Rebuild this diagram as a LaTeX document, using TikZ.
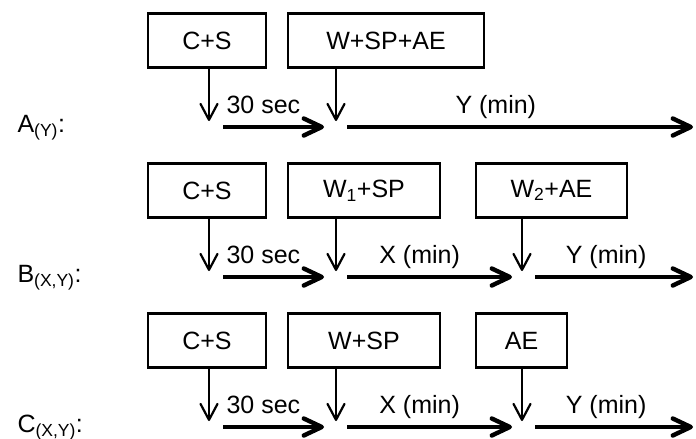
\documentclass[tikz,border=0pt]{standalone}
\usepackage{fontspec}
\setmainfont{Liberation Sans}
\usepackage{tikz}
\usetikzlibrary{arrows.meta}

\begin{document}
\begin{tikzpicture}[
    x=1pt, y=-1pt,
    font=\fontsize{25}{30}\selectfont,
    block/.style={rectangle, draw, line width=2.7pt, minimum height=54pt, inner sep=0pt},
    drop/.style={-{Straight Barb[length=16pt, width=17pt, line width=2.2pt, round]}, line width=1.8pt},
    arrow/.style={-{Straight Barb[length=18pt, width=17pt, line width=4.4pt, round]}, line width=3.8pt},
    lab/.style={anchor=base, yshift=14pt}
]
\useasboundingbox (0,0) rectangle (696,439);

% row A
\node[block, minimum width=118pt] (csA) at (207,40.5) {C+S};
\node[block, minimum width=196pt] (wA) at (386,40.5) {W+SP+AE};
\node[anchor=base west] (labA) at (14,132) {A\textsubscript{(Y)}:};
\coordinate (dA1) at (209,121);
\coordinate (dA2) at (336,121);
\coordinate (hA0) at (223,127);
\coordinate (hA1) at (324,127);
\coordinate (hA2) at (347,127);
\coordinate (hA3) at (693,127);
\draw[drop] (csA.south -| dA1) -- (dA1);
\draw[drop] (wA.south -| dA2) -- (dA2);
\draw[arrow] (hA0) -- node[lab, pos=.40] {30 sec} (hA1);
\draw[arrow] (hA2) -- node[lab, pos=.43] {Y (min)} (hA3);

% row B
\node[block, minimum width=118pt] (csB) at (207,190.5) {C+S};
\node[block, minimum width=152pt] (wB) at (364,190.5) {W\textsubscript{1}+SP};
\node[block, minimum width=151pt] (aeB) at (551.5,190.5) {W\textsubscript{2}+AE};
\node[anchor=base west] (labB) at (14,282) {B\textsubscript{(X,Y)}:};
\coordinate (dB1) at (209,271);
\coordinate (dB2) at (336,271);
\coordinate (dB3) at (522,271);
\coordinate (hB0) at (223,277);
\coordinate (hB1) at (324,277);
\coordinate (hB2) at (347,277);
\coordinate (hB3) at (512,277);
\coordinate (hB4) at (535,277);
\coordinate (hB5) at (693,277);
\draw[drop] (csB.south -| dB1) -- (dB1);
\draw[drop] (wB.south -| dB2) -- (dB2);
\draw[drop] (aeB.south -| dB3) -- (dB3);
\draw[arrow] (hB0) -- node[lab, pos=.40] {30 sec} (hB1);
\draw[arrow] (hB2) -- node[lab, pos=.44] {X (min)} (hB3);
\draw[arrow] (hB4) -- node[lab, pos=.45] {Y (min)} (hB5);

% row C
\node[block, minimum width=118pt] (csC) at (207,340.5) {C+S};
\node[block, minimum width=152pt] (wC) at (364,340.5) {W+SP};
\node[block, minimum width=91pt] (aeC) at (521.5,340.5) {AE};
\node[anchor=base west] (labC) at (14,432) {C\textsubscript{(X,Y)}:};
\coordinate (dC1) at (209,421);
\coordinate (dC2) at (336,421);
\coordinate (dC3) at (522,421);
\coordinate (hC0) at (223,427);
\coordinate (hC1) at (324,427);
\coordinate (hC2) at (347,427);
\coordinate (hC3) at (512,427);
\coordinate (hC4) at (535,427);
\coordinate (hC5) at (693,427);
\draw[drop] (csC.south -| dC1) -- (dC1);
\draw[drop] (wC.south -| dC2) -- (dC2);
\draw[drop] (aeC.south -| dC3) -- (dC3);
\draw[arrow] (hC0) -- node[lab, pos=.40] {30 sec} (hC1);
\draw[arrow] (hC2) -- node[lab, pos=.44] {X (min)} (hC3);
\draw[arrow] (hC4) -- node[lab, pos=.45] {Y (min)} (hC5);
\end{tikzpicture}
\end{document}
